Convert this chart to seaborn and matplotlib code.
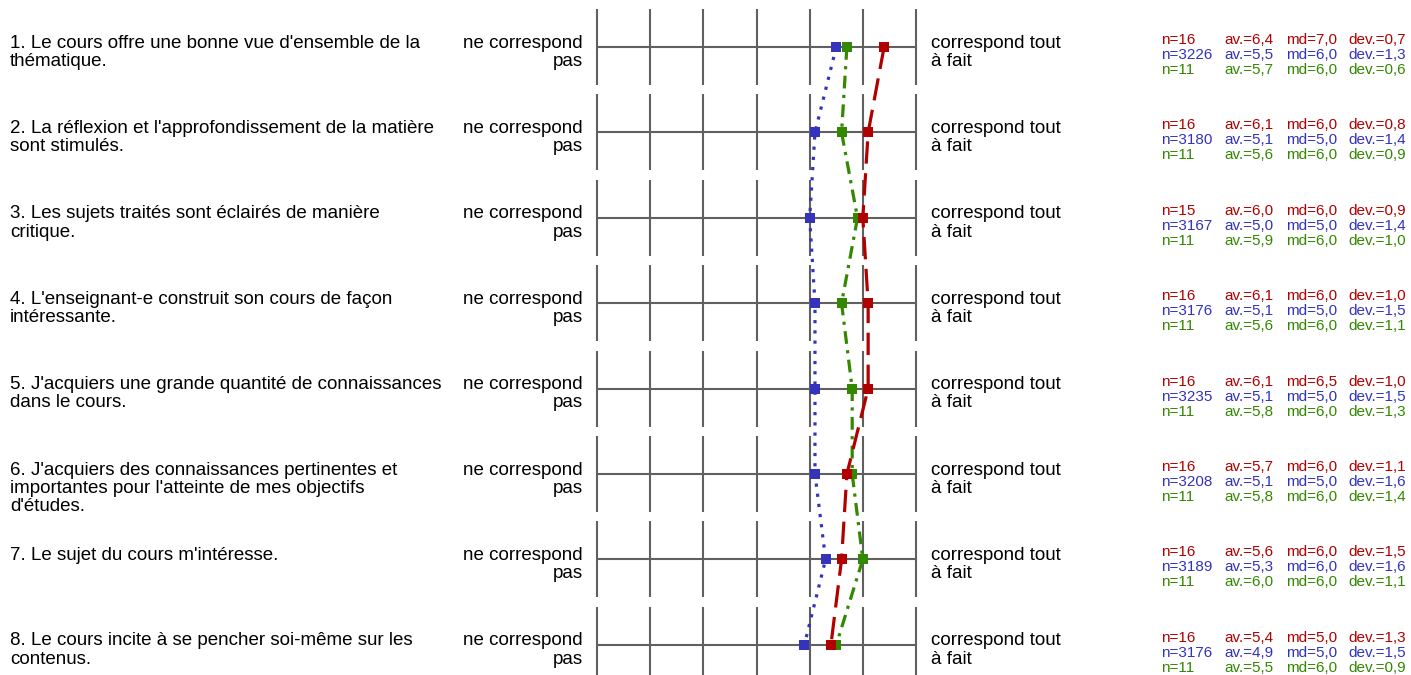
import matplotlib
matplotlib.use("Agg")
import matplotlib.pyplot as plt
import matplotlib.transforms as mtransforms
import numpy as np
import pandas as pd
import seaborn as sns

questions = [
    "1. Le cours offre une bonne vue d'ensemble de la\nthématique.",
    "2. La réflexion et l'approfondissement de la matière\nsont stimulés.",
    "3. Les sujets traités sont éclairés de manière\ncritique.",
    "4. L'enseignant-e construit son cours de façon\nintéressante.",
    "5. J'acquiers une grande quantité de connaissances\ndans le cours.",
    "6. J'acquiers des connaissances pertinentes et\nimportantes pour l'atteinte de mes objectifs\nd'études.",
    "7. Le sujet du cours m'intéresse.",
    "8. Le cours incite à se pencher soi-même sur les\ncontenus.",
]
left_pole = "ne correspond\npas"
right_pole = "correspond tout\nà fait"
scale = [1, 2, 3, 4, 5, 6, 7]

# course (red)
red_n = [16, 16, 15, 16, 16, 16, 16, 16]
red_av = [6.4, 6.1, 6.0, 6.1, 6.1, 5.7, 5.6, 5.4]
red_md = [7.0, 6.0, 6.0, 6.0, 6.5, 6.0, 6.0, 5.0]
red_dev = [0.7, 0.8, 0.9, 1.0, 1.0, 1.1, 1.5, 1.3]

# all courses (blue)
blue_n = [3226, 3180, 3167, 3176, 3235, 3208, 3189, 3176]
blue_av = [5.5, 5.1, 5.0, 5.1, 5.1, 5.1, 5.3, 4.9]
blue_md = [6.0, 5.0, 5.0, 5.0, 5.0, 5.0, 6.0, 5.0]
blue_dev = [1.3, 1.4, 1.4, 1.5, 1.5, 1.6, 1.6, 1.5]

# comparison group (green)
green_n = [11, 11, 11, 11, 11, 11, 11, 11]
green_av = [5.7, 5.6, 5.9, 5.6, 5.8, 5.8, 6.0, 5.5]
green_md = [6.0, 6.0, 6.0, 6.0, 6.0, 6.0, 6.0, 6.0]
green_dev = [0.6, 0.9, 1.0, 1.1, 1.3, 1.4, 1.1, 0.9]

RED = "#b00000"
BLUE = "#3333bb"
GREEN = "#338800"
GRID = "#606060"

sns.set_style("white")
plt.rcParams["font.family"] = ["Liberation Sans", "DejaVu Sans"]
plt.rcParams["text.color"] = "black"


def fr(v):
    # french decimal comma
    return f"{v:.1f}".replace(".", ",")


W, H = 1411, 675
fig = plt.figure(figsize=(W / 100, H / 100), dpi=100)

# plot area: x from 597px to 916px, rows centred at 47px + 85.4px*i
x0, x1 = 597, 916
row0, row_step = 47, 85.4
ax = fig.add_axes([x0 / W, 0, (x1 - x0) / W, 1])
ax.set_xlim(1, 7)
ax.set_ylim((H - row0) / row_step, -row0 / row_step)
ax.axis("off")

rows = np.arange(len(questions))
half = 38 / row_step
for r in rows:
    ax.vlines(scale, r - half, r + half, color=GRID, lw=1.5, clip_on=False, zorder=1)
    ax.hlines(r, 1, 7, color=GRID, lw=1.5, clip_on=False, zorder=1)

series = [
    (blue_av, BLUE, (0, (1, 2.2))),
    (green_av, GREEN, (0, (4, 2, 1, 2))),
    (red_av, RED, (0, (7, 3))),
]
for k, (av, col, ls) in enumerate(series):
    df = pd.DataFrame({"av": av, "row": rows})
    sns.lineplot(data=df, x="av", y="row", sort=False, estimator=None, ax=ax,
                 color=col, linestyle=ls, lw=2.3, marker="s", markersize=7.2,
                 markeredgewidth=0, clip_on=False, zorder=3 + k)

tr = mtransforms.blended_transform_factory(fig.transFigure, ax.transData)
px = 1 / row_step
stats = [
    (red_n, red_av, red_md, red_dev, RED),
    (blue_n, blue_av, blue_md, blue_dev, BLUE),
    (green_n, green_av, green_md, green_dev, GREEN),
]
for r in rows:
    ytop = r - 12.5 * px
    ax.text(10 / W, ytop, questions[r], transform=tr, ha="left", va="top",
            fontsize=13.5, linespacing=1.1)
    ax.text(583 / W, ytop, left_pole, transform=tr, ha="right", va="top",
            fontsize=13.5, linespacing=1.1, multialignment="right")
    ax.text(931 / W, ytop, right_pole, transform=tr, ha="left", va="top",
            fontsize=13.5, linespacing=1.1)
    for j, (n, av, md, dev, col) in enumerate(stats):
        yl = r + (-7 + 15 * j) * px
        ax.text(1161 / W, yl, f"n={n[r]}", transform=tr, color=col,
                fontsize=11, va="center")
        ax.text(1224 / W, yl, "av.=" + fr(av[r]), transform=tr, color=col,
                fontsize=11, va="center")
        ax.text(1286 / W, yl, "md=" + fr(md[r]), transform=tr, color=col,
                fontsize=11, va="center")
        ax.text(1348 / W, yl, "dev.=" + fr(dev[r]), transform=tr, color=col,
                fontsize=11, va="center")

fig.savefig("out.png", dpi=100)
